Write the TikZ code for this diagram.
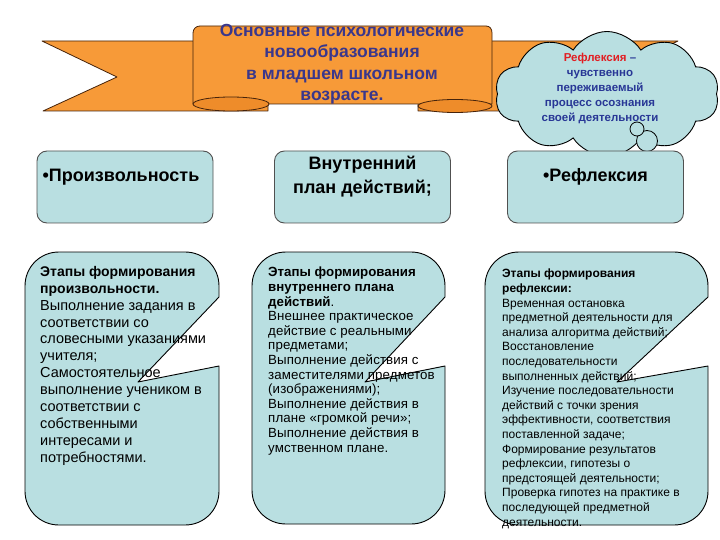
\documentclass[tikz,border=0pt]{standalone}
\usepackage{fontspec}
\setmainfont{Liberation Sans}
\newfontfamily\lsfont[LetterSpace=0.8]{Liberation Sans}
\usetikzlibrary{shapes.symbols}
\definecolor{orng}{RGB}{247,154,56}
\definecolor{orngd}{RGB}{238,140,42}
\definecolor{bnline}{RGB}{70,35,10}
\definecolor{teal}{RGB}{185,223,225}
\definecolor{bntext}{RGB}{58,55,140}
\definecolor{cred}{RGB}{225,30,35}
\definecolor{cblue}{RGB}{40,55,150}
\definecolor{boxline}{RGB}{80,80,80}
\tikzset{
  band/.style={fill=orng, draw=bnline, line width=0.8pt, line join=round},
  curl/.style={fill=orngd, draw=bnline, line width=0.8pt},
  lowshape/.style={fill=teal, draw=black, line width=0.9pt, line join=round},
  topbox/.style={fill=teal, draw=boxline, line width=0.9pt, rounded corners=10pt, minimum width=176pt, minimum height=72pt, inner sep=0pt},
  toplabel/.style={font=\bfseries\fontsize{18}{24}\selectfont, align=center, inner sep=0pt},
  lowtext/.style={anchor=north west, align=left, inner sep=0pt},
}
\begin{document}
\begin{tikzpicture}[x=1pt,y=-1pt]
\useasboundingbox (0,0) rectangle (720,540);
% banner back bands
\draw[band] (42,41) -- (268,41) -- (268,111) -- (43,111) -- (117,77) -- cycle;
\draw[band] (418,41) -- (678,41) -- (603,77) -- (678,111) -- (418,111) -- cycle;
% banner front
\draw[band] (193,104) -- (193,33) .. controls (193,29) and (196,26) .. (200,26) -- (486,26) .. controls (490,26) and (492,29) .. (492,33) -- (492,104) -- cycle;
\draw[curl] (231,104) ellipse [x radius=38pt, y radius=7pt];
\draw[curl] (455,106) ellipse [x radius=37pt, y radius=6.5pt];
\node[font=\bfseries\fontsize{17.5}{21.5}\selectfont, text=bntext, align=center, inner sep=0pt] (title) at (342,64)
  {Основные психологические\\новообразования\\в младшем школьном\\возрасте.};
% cloud
\node[cloud, draw=black, line width=0.9pt, fill=teal, cloud puffs=10, cloud puff arc=115, cloud ignores aspect, minimum width=224pt, minimum height=125pt, inner sep=0pt] (cloud) at (607,94) {};
\draw[fill=teal, draw=black, line width=0.8pt] (647,141) circle [radius=10.5pt];
\draw[fill=teal, draw=black, line width=0.8pt] (637,129) circle [radius=7pt];
\node[font=\bfseries\fontsize{11.5}{15}\selectfont, text=cblue, align=center, inner sep=0pt] (cloudtext) at (600,88)
  {\textcolor{cred}{Рефлексия} –\\чувственно\\переживаемый\\процесс осознания\\своей деятельности};
% top boxes
\node[topbox] (b1) at (125,187) {};
\node[topbox] (b2) at (362.5,187) {};
\node[topbox] (b3) at (595.5,187) {};
\node[toplabel] (l1) at (121,177) {•Произвольность};
\node[toplabel] (l2) at (362.5,177) {Внутренний\\план действий;};
\node[toplabel] (l3) at (595.5,177) {•Рефлексия};
% lower shapes
\draw[lowshape] (25,286) .. controls (25,267) and (40,252) .. (59,252) -- (185,252) .. controls (204,252) and (219,267) .. (219,286) -- (219,297) -- (138,382) -- (219,366) -- (219,491) .. controls (219,510) and (204,525) .. (185,525) -- (59,525) .. controls (40,525) and (25,510) .. (25,491) -- cycle;
\draw[lowshape] (252,286) .. controls (252,267) and (267,252) .. (286,252) -- (411,252) .. controls (430,252) and (445,267) .. (445,286) -- (445,297) -- (365,382) -- (445,366) -- (445,490) .. controls (445,509) and (430,524) .. (411,524) -- (286,524) .. controls (267,524) and (252,509) .. (252,490) -- cycle;
\draw[lowshape] (485,286) .. controls (485,267) and (500,252) .. (519,252) -- (674,252) .. controls (693,252) and (708,267) .. (708,286) -- (708,297) -- (617,382) -- (708,366) -- (708,491) .. controls (708,510) and (693,525) .. (674,525) -- (519,525) .. controls (500,525) and (485,510) .. (485,491) -- cycle;
\node[lowtext, font=\fontsize{14.5}{16.9}\selectfont] (t1) at (40,266)
  {\textbf{\fontsize{14}{16.9}\selectfont Этапы формирования}\\\textbf{\fontsize{14}{16.9}\selectfont произвольности.}\\Выполнение задания в\\соответствии со\\словесными указаниями\\учителя;\\Самостоятельное\\выполнение учеником в\\соответствии с\\собственными\\интересами и\\потребностями.};
\node[lowtext, font=\fontsize{13.3}{14.6}\selectfont] (t2) at (268,267)
  {\textbf{Этапы формирования}\\\textbf{внутреннего плана}\\\textbf{действий}.\\{\lsfont Внешнее практическое}\\{\lsfont действие с реальными}\\{\lsfont предметами;}\\{\lsfont Выполнение действия с}\\{\lsfont заместителями предметов}\\{\lsfont (изображениями);}\\{\lsfont Выполнение действия в}\\{\lsfont плане «громкой речи»;}\\{\lsfont Выполнение действия в}\\{\lsfont умственном плане.}};
\node[lowtext, font=\fontsize{12}{14.6}\selectfont] (t3) at (502,269)
  {\textbf{Этапы формирования}\\\textbf{рефлексии:}\\Временная остановка\\предметной деятельности для\\анализа алгоритма действий;\\Восстановление\\последовательности\\выполненных действий;\\Изучение последовательности\\действий с точки зрения\\эффективности, соответствия\\поставленной задаче;\\Формирование результатов\\рефлексии, гипотезы о\\предстоящей деятельности;\\Проверка гипотез на практике в\\последующей предметной\\деятельности.};
\end{tikzpicture}
\end{document}
